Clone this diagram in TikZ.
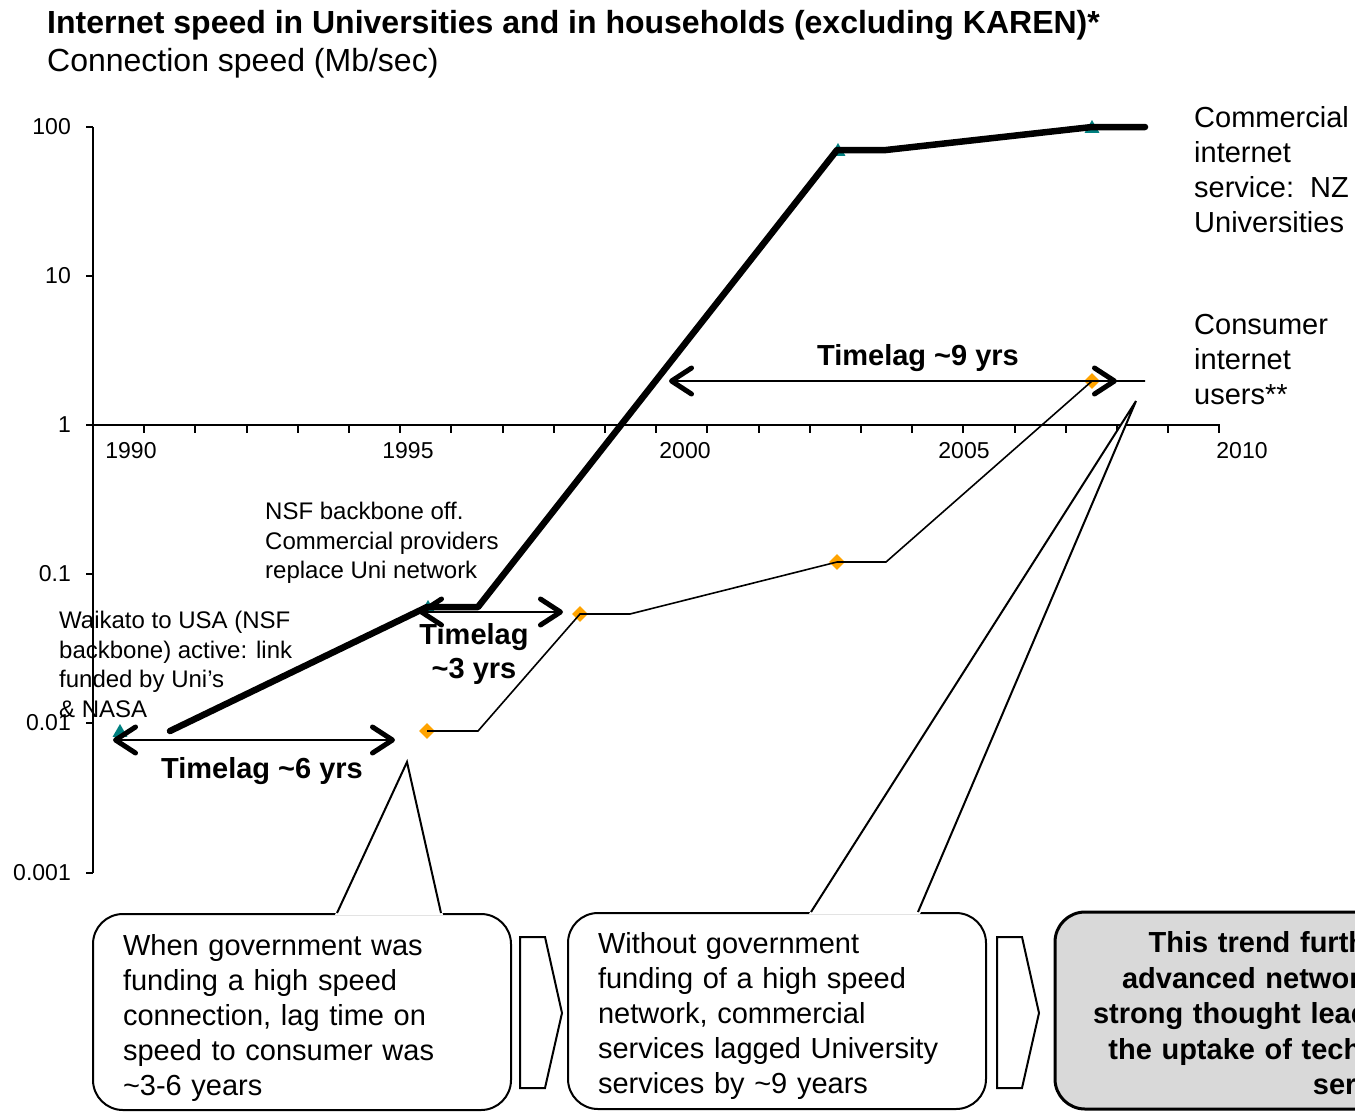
\documentclass[tikz,border=0pt]{standalone}
\usepackage{fontspec}
\setmainfont{Liberation Sans}
\usetikzlibrary{arrows.meta,shapes.geometric}

\definecolor{uniteal}{RGB}{0,128,128}
\definecolor{userorange}{RGB}{255,163,0}
\definecolor{trendgray}{RGB}{217,217,217}

\tikzset{
  axisline/.style={line width=2pt},
  axislabel/.style={inner sep=0pt, font=\fontsize{23}{27}\selectfont},
  uniline/.style={line width=6.5pt, line cap=round, line join=round},
  userline/.style={line width=1.6pt},
  unimark/.style={regular polygon, regular polygon sides=3, fill=uniteal, inner sep=0pt, minimum size=17pt},
  usermark/.style={diamond, fill=userorange, inner sep=0pt, minimum size=16pt},
  lagarrow/.style={<->, line width=2.5pt},
  lagtext/.style={inner sep=0pt, align=center, font=\bfseries\fontsize{29}{34}\selectfont},
  notetext/.style={inner sep=0pt, align=left, anchor=north west, font=\fontsize{24}{29.5}\selectfont},
  legendtext/.style={inner sep=0pt, align=left, anchor=north west, font=\fontsize{29}{35}\selectfont},
  notebox/.style={draw, line width=2pt, rounded corners=30pt, minimum width=418pt, minimum height=196pt,
    text width=358pt, inner xsep=30pt, inner ysep=0pt, align=left, font=\fontsize{29}{35}\selectfont},
  trendbox/.style={draw, fill=trendgray, line width=3pt, rounded corners=30pt, minimum width=632pt, minimum height=197pt,
    text width=580pt, inner xsep=26pt, inner ysep=0pt, align=center, font=\bfseries\fontsize{29}{35.5}\selectfont},
  calloutline/.style={line width=2pt},
  chevronline/.style={line width=2pt}
}

\begin{document}
\begin{tikzpicture}[x=1pt, y=-1pt, >={Straight Barb[length=20pt, width=26pt, line width=2.5pt 1, round]}]
    \useasboundingbox (0,0) rectangle (1355,1112);
    \clip (0,0) rectangle (1355,1112);

    % titles
    \node[anchor=base west, inner sep=0pt, font=\bfseries\fontsize{32}{38}\selectfont] (title) at (47,33)
        {Internet speed in Universities and in households (excluding KAREN)*};
    \node[anchor=base west, inner sep=0pt, font=\fontsize{32}{38}\selectfont] (subtitle) at (47,71)
        {Connection speed (Mb/sec)};

    % axes
    \draw[axisline] (93,127) -- (93,873);
    \draw[axisline] (93,425) -- (1220,425);
    \foreach \v/\lab [count=\i] in {127/100, 276/10, 425/1, 574/0.1, 723/0.01, 873/0.001} {
        \draw[axisline] (86,\v) -- (93,\v);
        \node[axislabel, anchor=east] (ylab\i) at (71,\v) {\lab};
    }
    \foreach \k in {1,...,22} \draw[axisline] (93+51.2*\k,425) -- ++(0,8);
    \foreach \x/\yr [count=\i] in {131/1990, 408/1995, 685/2000, 964/2005, 1242/2010}
        \node[axislabel] (xlab\i) at (\x,451) {\yr};

    % markers
    \foreach \p [count=\i] in {(120,732.5), (428,608.5), (838,151.5), (1092,128.5)}
        \node[unimark] (uni\i) at \p {};
    \foreach \p [count=\i] in {(427,731), (580,614), (837,562), (1092,381)}
        \node[usermark] (user\i) at \p {};

    % series
    \draw[userline] (427,731) -- (478,731) -- (580,614) -- (630,614) -- (837,562) -- (886,562) -- (1092,381) -- (1145,381);
    \draw[uniline] (170,731) -- (427,607) -- (478,607) -- (837,150) -- (886,150) -- (1092,127) -- (1145,127);

    % time lags
    \draw[lagarrow] (113,740) -- (395,740);
    \node[lagtext] (lag6) at (262,771) {Timelag \textasciitilde6 yrs};
    \draw[lagarrow] (419,612) -- (563,612);
    \node[lagtext] (lag3) at (474,654) {Timelag\\\textasciitilde3 yrs};
    \draw[lagarrow] (669,381) -- (1117,381);
    \node[lagtext] (lag9) at (918,358) {Timelag \textasciitilde9 yrs};

    % notes on the chart
    \node[notetext] (nsf) at (265,502) {NSF backbone off.\\Commercial providers\\replace Uni network};
    \node[notetext] (waikato) at (59,611) {Waikato to USA (NSF\\backbone) active: link\\funded by Uni’s\\\& NASA};

    % series labels
    \node[legendtext] (unilabel) at (1194,106) {Commercial\\internet\\service:\ \ NZ\\Universities};
    \node[legendtext] (userlabel) at (1194,314) {Consumer\\internet\\users**};

    % callout boxes
    \node[notebox] (govbox) at (302,1012) {\rule{0pt}{33pt}When government was\\funding a high speed\\connection, lag time on\\speed to consumer was\\\textasciitilde3-6 years};
    \coordinate (govtip) at (407,762);
    \fill[white] ([xshift=33pt,yshift=-2pt]govbox.north) -- (govtip) -- ([xshift=141pt,yshift=-2pt]govbox.north) -- cycle;
    \draw[calloutline] ([xshift=35pt]govbox.north) -- (govtip) -- ([xshift=139pt]govbox.north);

    \node[notebox] (nogovbox) at (777,1011) {\rule{0pt}{31pt}Without government\\funding of a high speed\\network, commercial\\services lagged University\\services by \textasciitilde9 years};
    \coordinate (nogovtip) at (1136,401);
    \fill[white] ([xshift=32pt,yshift=-2pt]nogovbox.north) -- (nogovtip) -- ([xshift=143pt,yshift=-2pt]nogovbox.north) -- cycle;
    \draw[calloutline] ([xshift=34pt]nogovbox.north) -- (nogovtip) -- ([xshift=141pt]nogovbox.north);

    \node[trendbox] (trend) at (1371,1010.5) {\rule{0pt}{27pt}This trend further suggests that\\advanced networks, together with a\\strong thought leadership is needed for\\the uptake of technology and internet\\services};

    % chevrons between the boxes
    \draw[chevronline] (520,937) -- (545,937) -- (562,1013) -- (545,1088) -- (520,1088) -- cycle;
    \draw[chevronline] (997,937) -- (1022,937) -- (1039,1013) -- (1022,1088) -- (997,1088) -- cycle;

\end{tikzpicture}
\end{document}
